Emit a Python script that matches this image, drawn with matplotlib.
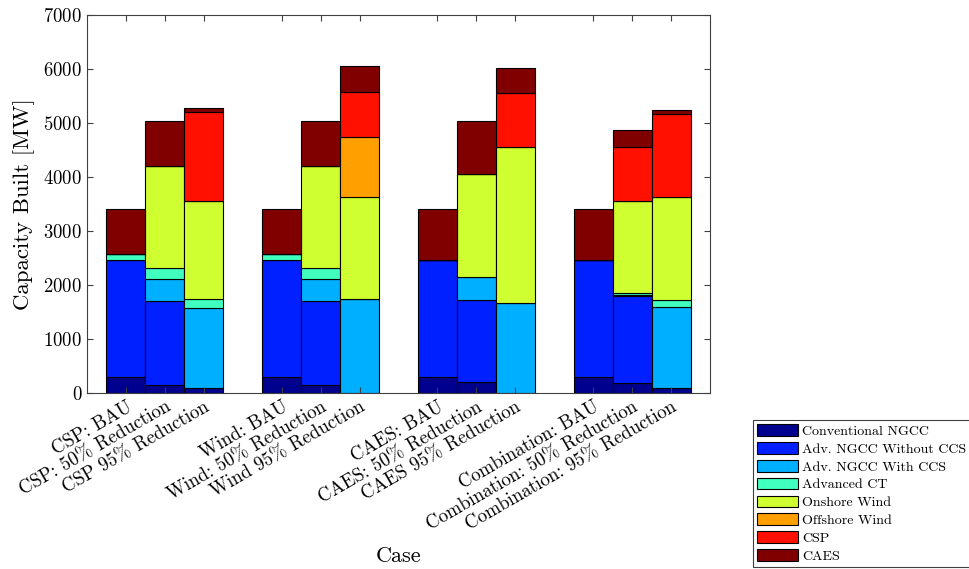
import numpy as np
import matplotlib.pyplot as plt

plt.rcParams['font.family'] = 'serif'
plt.rcParams['font.serif'] = ['cmr10', 'DejaVu Serif']
plt.rcParams['mathtext.fontset'] = 'cm'
plt.rcParams['axes.formatter.use_mathtext'] = True

# cases (x tick labels)
cases = ['CSP: BAU', 'CSP: 50% Reduction', 'CSP 95% Reduction',
         'Wind: BAU', 'Wind: 50% Reduction', 'Wind 95% Reduction',
         'CAES: BAU', 'CAES: 50% Reduction', 'CAES 95% Reduction',
         'Combination: BAU', 'Combination: 50% Reduction', 'Combination: 95% Reduction']

techs = ['Conventional NGCC', 'Adv. NGCC Without CCS', 'Adv. NGCC With CCS',
         'Advanced CT', 'Onshore Wind', 'Offshore Wind', 'CSP', 'CAES']

# capacity built [MW] per technology, one value per case
conv_ngcc = [300, 160, 100, 300, 160, 0, 300, 200, 0, 300, 180, 100]
adv_ngcc = [2170, 1540, 0, 2170, 1540, 0, 2170, 1530, 0, 2170, 1620, 0]
adv_ngcc_ccs = [0, 420, 1470, 0, 420, 1740, 0, 420, 1670, 0, 10, 1500]
adv_ct = [110, 190, 180, 110, 190, 0, 0, 0, 0, 0, 40, 130]
onshore = [0, 1900, 1800, 0, 1900, 1890, 0, 1910, 2880, 0, 1700, 1900]
offshore = [0, 0, 0, 0, 0, 1105, 0, 0, 0, 0, 0, 0]
csp = [0, 0, 1650, 0, 0, 830, 0, 0, 1000, 0, 1000, 1540]
caes = [820, 820, 80, 820, 820, 490, 930, 980, 470, 930, 320, 75]

series = [conv_ngcc, adv_ngcc, adv_ngcc_ccs, adv_ct, onshore, offshore, csp, caes]
colors = ['#00008F', '#0020FF', '#00AFFF', '#40FFBF',
          '#CFFF30', '#FF9F00', '#FF1000', '#800000']

x = np.array([1, 2, 3, 5, 6, 7, 9, 10, 11, 13, 14, 15])

fig = plt.figure(figsize=(9.7, 5.69), dpi=100)
ax = fig.add_axes([0.0897, 0.309, 0.6423, 0.665])

bottom = np.zeros(len(x))
for vals, c, name in zip(series, colors, techs):
    vals = np.array(vals, dtype=float)
    ax.bar(x, vals, width=1.0, bottom=bottom, color=c, edgecolor='black',
           linewidth=0.8, label=name)
    bottom += vals

ax.set_xlim(0, 16)
ax.set_ylim(0, 7000)
ax.set_yticks(np.arange(0, 7001, 1000))
ax.set_xticks(x)
ax.set_xticklabels(cases, rotation=30, ha='right', rotation_mode='anchor', fontsize=13.5)
ax.tick_params(axis='y', labelsize=13.5)
ax.tick_params(direction='in', top=True, right=True, length=4, color='#404040')
for s in ax.spines.values():
    s.set_color('#404040')
    s.set_linewidth(0.8)

ax.set_ylabel('Capacity Built [MW]', fontsize=16.5, labelpad=6)
ax.set_xlabel('Case', fontsize=16, labelpad=9)

leg = fig.legend(loc='upper left', bbox_to_anchor=(0.776, 0.262), fontsize=10.1,
                 fancybox=False, edgecolor='#404040', framealpha=1,
                 handlelength=2.9, handleheight=0.9, labelspacing=0.3,
                 borderpad=0.3, handletextpad=0.3, borderaxespad=0)
leg.get_frame().set_linewidth(0.8)

fig.savefig('out.png', dpi=100)
